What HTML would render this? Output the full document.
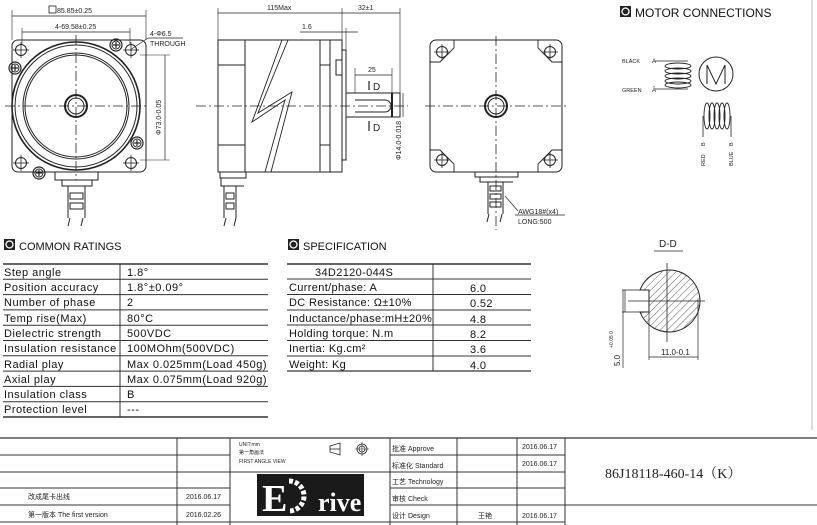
<!DOCTYPE html>
<html><head><meta charset="utf-8"><style>
html,body{margin:0;padding:0;background:#fff;}
svg{display:block;font-family:"Liberation Sans","Noto Sans CJK SC",sans-serif;}
</style></head><body>
<svg width="817" height="525" viewBox="0 0 817 525" xmlns="http://www.w3.org/2000/svg">
<defs>
<g id="hole"><circle r="5.5" fill="none" stroke="#222" stroke-width="1"/><line x1="-8" y1="0" x2="8" y2="0" stroke="#222" stroke-width="0.8"/><line x1="0" y1="-8" x2="0" y2="8" stroke="#222" stroke-width="0.8"/></g>
<g id="screw"><circle r="6" fill="none" stroke="#222" stroke-width="1.2"/><circle r="4" fill="none" stroke="#222" stroke-width="1"/><line x1="-3" y1="0" x2="3" y2="0" stroke="#222" stroke-width="1.2"/><line x1="0" y1="-3" x2="0" y2="3" stroke="#222" stroke-width="1.2"/></g>
<pattern id="hatch" width="5" height="5" patternUnits="userSpaceOnUse" patternTransform="rotate(45)"><line x1="0" y1="0" x2="0" y2="5" stroke="#333" stroke-width="0.8"/></pattern>
</defs>
<g stroke="#222" fill="none" stroke-width="1">
<rect x="12" y="40" width="134" height="132" rx="6"/>
<circle cx="76" cy="106" r="64" stroke-width="1.6"/>
<circle cx="76" cy="106" r="61"/>
<circle cx="76" cy="106" r="53"/>
<circle cx="76" cy="106" r="51"/>
<circle cx="76" cy="106" r="11" stroke-width="2"/>
<circle cx="76" cy="106" r="8"/>
<line x1="5" y1="106" x2="148" y2="106" stroke-dasharray="10,3,2,3" stroke-width="0.8"/>
<line x1="76" y1="35" x2="76" y2="180" stroke-dasharray="10,3,2,3" stroke-width="0.8"/>
<use href="#hole" x="21" y="50"/><use href="#hole" x="131" y="50"/><use href="#hole" x="21" y="163"/><use href="#hole" x="131" y="163"/>
<use href="#screw" x="116" y="45"/><use href="#screw" x="15" y="68"/><use href="#screw" x="137" y="143"/><use href="#screw" x="39" y="173"/>
<path d="M55 172 v8 h43 v-8"/><path d="M62 180 v6 h30 v-6"/>
<path d="M68 186 v32 M85 186 v32 M70 193 h13 v6 h-13 z M70 203 h13 v6 h-13 z"/>
<path d="M70 218 l-2 8 M83 218 l-2 8"/>
<line x1="12" y1="16" x2="146" y2="16" stroke-width="0.7"/><line x1="12" y1="10" x2="12" y2="40" stroke-width="0.6"/><line x1="146" y1="10" x2="146" y2="40" stroke-width="0.6"/>
<rect x="49" y="6" width="7" height="7" stroke-width="0.8"/>
<line x1="22" y1="32" x2="130" y2="32" stroke-width="0.7"/><line x1="22" y1="28" x2="22" y2="44" stroke-width="0.6"/><line x1="130" y1="28" x2="130" y2="44" stroke-width="0.6"/>
<line x1="130" y1="50" x2="148" y2="38" stroke-width="0.7"/><line x1="148" y1="38" x2="183" y2="38" stroke-width="0.7"/>
<line x1="165" y1="55" x2="165" y2="160" stroke-width="0.7"/><line x1="140" y1="55" x2="170" y2="55" stroke-width="0.6"/><line x1="140" y1="160" x2="170" y2="160" stroke-width="0.6"/>
<rect x="218" y="40" width="124" height="132"/>
<line x1="245" y1="40" x2="245" y2="172"/><line x1="320" y1="40" x2="320" y2="172"/><line x1="330" y1="40" x2="330" y2="172"/>
<line x1="218" y1="65" x2="245" y2="65"/><line x1="218" y1="145" x2="245" y2="145"/>
<line x1="320" y1="65" x2="330" y2="65"/><line x1="320" y1="145" x2="330" y2="145"/>
<path d="M282 40 L252 122 L285 100 L265 172 M288 40 L258 113 L292 92 L271 172" stroke-width="0.9"/>
<rect x="336" y="60" width="6" height="15"/>
<rect x="342" y="50" width="4" height="110"/>
<rect x="346" y="93" width="54" height="24"/>
<path d="M355 100 h30 a6 6 0 0 1 0 12 h-30"/>
<line x1="392" y1="93" x2="392" y2="117" stroke-width="2"/>
<line x1="196" y1="106" x2="408" y2="106" stroke-dasharray="10,3,2,3" stroke-width="0.8"/>
<path d="M220 172 v6 h26 v-6 M221 178 v8 h23 M224 186 v32 M236 186 v32 M226 193 h8 v6 h-8z M226 203 h8 v6 h-8z M226 218 l-2 8 M236 218 l-2 8"/>
<line x1="218" y1="13" x2="342" y2="13" stroke-width="0.7"/><line x1="218" y1="8" x2="218" y2="40" stroke-width="0.6"/><line x1="342" y1="8" x2="342" y2="50" stroke-width="0.6"/>
<line x1="342" y1="13" x2="400" y2="13" stroke-width="0.7"/><line x1="400" y1="8" x2="400" y2="93" stroke-width="0.6"/>
<line x1="300" y1="32" x2="358" y2="32" stroke-width="0.7"/><line x1="346" y1="28" x2="346" y2="50" stroke-width="0.6"/>
<line x1="355" y1="75" x2="392" y2="75" stroke-width="0.7"/><line x1="355" y1="68" x2="355" y2="93" stroke-width="0.6"/><line x1="392" y1="68" x2="392" y2="93" stroke-width="0.6"/>
<line x1="369" y1="81" x2="369" y2="90" stroke-width="1.2"/><line x1="369" y1="121" x2="369" y2="131" stroke-width="1.2"/>
<line x1="403" y1="93" x2="403" y2="117" stroke-width="0.7"/>
<rect x="430" y="40" width="132" height="132" rx="6"/>
<path d="M430 62 h10 l14 -14 v-8 M562 62 h-10 l-14 -14 v-8 M430 150 h10 l14 14 v8 M562 150 h-10 l-14 14 v8" stroke-width="0.9"/>
<use href="#hole" x="442" y="52"/><use href="#hole" x="550" y="52"/><use href="#hole" x="442" y="160"/><use href="#hole" x="550" y="160"/>
<circle cx="496" cy="106" r="11" stroke-width="2"/><circle cx="496" cy="106" r="8"/>
<line x1="425" y1="106" x2="568" y2="106" stroke-dasharray="10,3,2,3" stroke-width="0.8"/>
<line x1="496" y1="36" x2="496" y2="230" stroke-dasharray="10,3,2,3" stroke-width="0.8"/>
<path d="M475 172 v5 h43 v-5 M480 177 v5 h33 M488 182 v32 M503 182 v32 M490 186 h11 v5 h-11z M490 194 h11 v5 h-11z M490 202 h11 v5 h-11z M489 214 l-2 8 M502 214 l-2 8"/>
<line x1="505" y1="196" x2="518" y2="211" stroke-width="0.7"/><line x1="515" y1="215" x2="565" y2="215" stroke-width="0.7"/>
<line x1="655" y1="61" x2="688" y2="61" stroke-width="0.8"/><line x1="655" y1="89" x2="688" y2="89" stroke-width="0.8"/>
<g stroke-width="0.9"><ellipse cx="678" cy="66" rx="13" ry="3"/><ellipse cx="678" cy="71" rx="13" ry="3"/><ellipse cx="678" cy="76" rx="13" ry="3"/><ellipse cx="678" cy="81" rx="13" ry="3"/><ellipse cx="678" cy="85" rx="13" ry="3"/></g>
<circle cx="716" cy="74" r="17"/>
<path d="M707 84 v-19 l9 19 l9 -19 v19" stroke-width="1"/>
<g stroke-width="0.9"><ellipse cx="707" cy="116" rx="3" ry="13"/><ellipse cx="712" cy="116" rx="3" ry="13"/><ellipse cx="717" cy="116" rx="3" ry="13"/><ellipse cx="722" cy="116" rx="3" ry="13"/><ellipse cx="727" cy="116" rx="3" ry="13"/></g>
<line x1="703" y1="116" x2="703" y2="137" stroke-width="0.8"/><line x1="731" y1="116" x2="731" y2="137" stroke-width="0.8"/>
<g stroke="#333" stroke-width="1">
<line x1="3" y1="264" x2="268" y2="264" stroke-width="1.5"/>
<line x1="3" y1="279.3" x2="268" y2="279.3"/><line x1="3" y1="294.6" x2="268" y2="294.6"/><line x1="3" y1="309.9" x2="268" y2="309.9"/><line x1="3" y1="325.2" x2="268" y2="325.2"/><line x1="3" y1="340.5" x2="268" y2="340.5"/><line x1="3" y1="355.8" x2="268" y2="355.8"/><line x1="3" y1="371.1" x2="268" y2="371.1"/><line x1="3" y1="386.4" x2="268" y2="386.4"/><line x1="3" y1="401.7" x2="268" y2="401.7"/>
<line x1="3" y1="417" x2="268" y2="417" stroke-width="1.5"/>
<line x1="120" y1="264" x2="120" y2="417"/>
<line x1="287" y1="264" x2="531" y2="264" stroke-width="1.5"/>
<line x1="287" y1="279" x2="531" y2="279"/><line x1="287" y1="294.5" x2="531" y2="294.5"/><line x1="287" y1="310" x2="531" y2="310"/><line x1="287" y1="325" x2="531" y2="325"/><line x1="287" y1="340.5" x2="531" y2="340.5"/><line x1="287" y1="356" x2="531" y2="356"/>
<line x1="287" y1="371" x2="531" y2="371" stroke-width="1.3"/>
<line x1="433" y1="264" x2="433" y2="371"/>
</g>
<line x1="654" y1="251" x2="683" y2="251" stroke-width="0.8"/>
<path d="M640 290 A31 31 0 1 1 640 312 L649 312 L649 290 Z" fill="url(#hatch)" stroke-width="1"/>
<path d="M622 290 h27 M622 312 h27" stroke-width="0.8"/>
<line x1="667" y1="263" x2="667" y2="342" stroke-width="0.8"/>
<line x1="628" y1="301" x2="705" y2="301" stroke-width="0.8"/>
<line x1="623" y1="290" x2="623" y2="368" stroke-width="0.7"/><line x1="625" y1="290" x2="625" y2="312" stroke-width="0.7"/>
<line x1="649" y1="312" x2="649" y2="360" stroke-width="0.7"/><line x1="698" y1="300" x2="698" y2="360" stroke-width="0.7"/>
<line x1="649" y1="357" x2="698" y2="357" stroke-width="0.7"/>
<line x1="812" y1="0" x2="812" y2="430" stroke="#bbb"/>
<g stroke="#333" stroke-width="1">
<line x1="0" y1="438" x2="817" y2="438" stroke-width="1.3"/>
<line x1="0" y1="455" x2="230" y2="455"/><line x1="0" y1="472" x2="230" y2="472"/><line x1="0" y1="488" x2="230" y2="488"/><line x1="0" y1="505" x2="230" y2="505"/><line x1="0" y1="522" x2="565" y2="522"/>
<line x1="230" y1="472" x2="390" y2="472"/>
<line x1="390" y1="455" x2="565" y2="455"/><line x1="390" y1="472" x2="565" y2="472"/><line x1="390" y1="488" x2="565" y2="488"/><line x1="390" y1="505" x2="565" y2="505"/>
<line x1="565" y1="505" x2="817" y2="505"/>
<line x1="177" y1="438" x2="177" y2="525"/><line x1="230" y1="438" x2="230" y2="525"/><line x1="390" y1="438" x2="390" y2="525"/><line x1="457" y1="438" x2="457" y2="525"/><line x1="517" y1="438" x2="517" y2="525"/><line x1="565" y1="438" x2="565" y2="525"/>
</g>
<path d="M330 446 l10 -3 v12 l-10 -3 z M330 449 h10" stroke-width="0.8"/>
<circle cx="362" cy="449" r="5" stroke-width="0.8"/><circle cx="362" cy="449" r="3" stroke-width="0.8"/><path d="M355 449 h14 M362 442 v14" stroke-width="0.6"/>
</g>
<rect x="257" y="474" width="107" height="42" fill="#1a1a1a"/>
<text x="262" y="511" font-family="Liberation Serif,serif" font-size="38" font-weight="bold" fill="#fff">E</text>
<path d="M289 481 a15 15 0 0 1 0 30" stroke="#fff" stroke-width="5" fill="none" stroke-dasharray="4,2"/>
<text x="318" y="511" font-family="Liberation Serif,serif" font-size="26" font-weight="bold" fill="#fff">rive</text>
<g fill="#222" font-size="7">
<text x="57" y="13">85.85±0.25</text>
<text x="55" y="29">4-69.58±0.25</text>
<text x="150" y="36">4-Φ6.5</text><text x="150" y="46">THROUGH</text>
<text transform="translate(161,135) rotate(-90)">Φ73.0-0.05</text>
<text x="267" y="10">115Max</text><text x="358" y="10">32±1</text>
<text x="302" y="29">1.6</text><text x="368" y="72">25</text>
<text x="373" y="90" font-size="10">D</text><text x="373" y="131" font-size="10">D</text>
<text transform="translate(401,160) rotate(-90)">Φ14.0-0.018</text>
<text x="518" y="214">AWG18#(x4)</text><text x="518" y="224">LONG:500</text>
<text x="622" y="63" font-size="5.5">BLACK</text><text x="622" y="92" font-size="5.5">GREEN</text>
<text x="652" y="63" font-size="6">A</text><text x="652" y="92" font-size="6">Ā</text>
<text transform="translate(705,146) rotate(-90)" font-size="5.5">B</text><text transform="translate(733,146) rotate(-90)" font-size="5.5">B</text>
<text transform="translate(705,166) rotate(-90)" font-size="5.5">RED</text><text transform="translate(733,166) rotate(-90)" font-size="5.5">BLUE</text>
<text x="659" y="247" font-size="10">D-D</text>
<text transform="translate(620,366) rotate(-90)" font-size="8">5.0</text><text transform="translate(613,348) rotate(-90)" font-size="5">+0.05 0</text>
<text x="661" y="355" font-size="8">11.0-0.1</text>
</g>
<g fill="#111" font-size="12">
<rect x="620" y="6" width="11" height="11" fill="#222"/><circle cx="625.5" cy="11.5" r="3.5" fill="none" stroke="#fff" stroke-width="1.3"/>
<text x="635" y="17">MOTOR CONNECTIONS</text>
<rect x="4" y="239" width="11" height="11" fill="#222"/><circle cx="9.5" cy="244.5" r="3.5" fill="none" stroke="#fff" stroke-width="1.3"/>
<text x="19" y="250" font-size="11">COMMON RATINGS</text>
<rect x="288" y="239" width="11" height="11" fill="#222"/><circle cx="293.5" cy="244.5" r="3.5" fill="none" stroke="#fff" stroke-width="1.3"/>
<text x="303" y="250" font-size="11">SPECIFICATION</text>
</g>
<g fill="#111" font-size="11" letter-spacing="0.5">
<text x="4" y="276">Step angle</text><text x="127" y="276">1.8°</text>
<text x="4" y="291">Position accuracy</text><text x="127" y="291">1.8°±0.09°</text>
<text x="4" y="306">Number of phase</text><text x="127" y="306">2</text>
<text x="4" y="322">Temp rise(Max)</text><text x="127" y="322">80°C</text>
<text x="4" y="337">Dielectric strength</text><text x="127" y="337">500VDC</text>
<text x="4" y="352" letter-spacing="0.6">Insulation resistance</text><text x="127" y="352">100MOhm(500VDC)</text>
<text x="4" y="368">Radial play</text><text x="127" y="368">Max 0.025mm(Load 450g)</text>
<text x="4" y="383">Axial play</text><text x="127" y="383">Max 0.075mm(Load 920g)</text>
<text x="4" y="398">Insulation class</text><text x="127" y="398">B</text>
<text x="4" y="413">Protection level</text><text x="127" y="413">---</text>
</g>
<g fill="#111" font-size="11" letter-spacing="0.35">
<text x="315" y="276">34D2120-044S</text>
<text x="289" y="291">Current/phase: A</text><text x="470" y="292">6.0</text>
<text x="289" y="306">DC Resistance: Ω±10%</text><text x="470" y="307">0.52</text>
<text x="289" y="322">Inductance/phase:mH±20%</text><text x="470" y="323">4.8</text>
<text x="289" y="337">Holding torque: N.m</text><text x="470" y="338">8.2</text>
<text x="289" y="352">Inertia: Kg.cm²</text><text x="470" y="353">3.6</text>
<text x="289" y="368">Weight: Kg</text><text x="470" y="369">4.0</text>
</g>
<g fill="#222" font-size="7">
<text x="28" y="499">改成尾卡出线</text><text x="28" y="517">第一版本 The first version</text>
<text x="186" y="499">2016.06.17</text><text x="186" y="517">2016.02.26</text>
<text x="239" y="446" font-size="5">UNIT:mm</text><text x="239" y="454" font-size="5">第一角画法</text><text x="239" y="463" font-size="5">FIRST ANGLE VIEW</text>
<text x="392" y="451">批准 Approve</text><text x="392" y="468">标准化 Standard</text><text x="392" y="484">工艺 Technology</text><text x="392" y="501">审核 Check</text><text x="392" y="518">设计 Design</text>
<text x="478" y="518">王艳</text>
<text x="522" y="449">2016.06.17</text><text x="522" y="466">2016.06.17</text><text x="522" y="518">2016.06.17</text>
<text x="605" y="478" font-size="14" font-family="Liberation Serif,'Noto Serif CJK SC',serif">86J18118-460-14（K）</text>
</g>
</svg>
</body></html>
